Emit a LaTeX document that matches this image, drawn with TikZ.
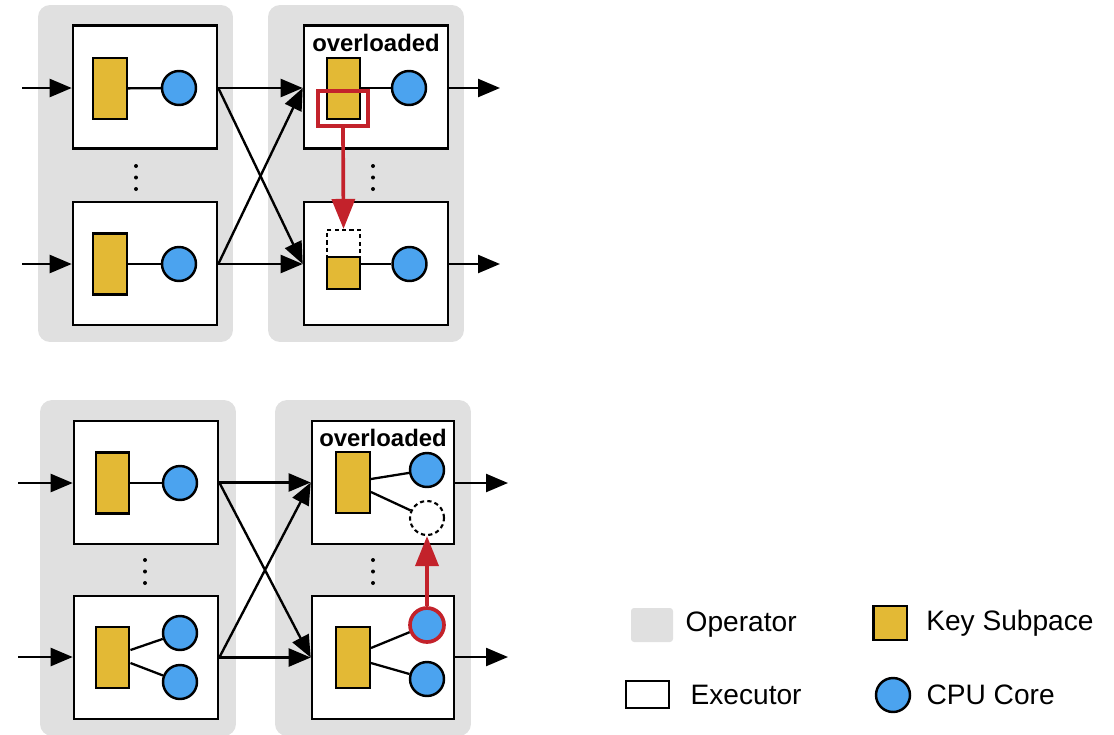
\documentclass[tikz,border=0pt]{standalone}
\usepackage{fontspec}
\setmainfont{Liberation Sans}
\usetikzlibrary{positioning,arrows.meta}

\definecolor{opgray}{HTML}{E0E0E0}
\definecolor{keyyellow}{HTML}{E3B935}
\definecolor{cpublue}{HTML}{4BA3EF}
\definecolor{movered}{HTML}{C3222B}

\tikzset{
  operator/.style={fill=opgray, rounded corners=0.24cm, inner sep=0pt},
  executor/.style={draw, line width=1.5pt, fill=white, minimum width=2.88cm, minimum height=2.46cm, inner sep=0pt},
  keysub/.style={draw, line width=1.4pt, fill=keyyellow, minimum width=0.67cm, minimum height=1.22cm, inner sep=0pt},
  cpu/.style={circle, draw, line width=1.4pt, fill=cpublue, minimum size=0.68cm, inner sep=0pt},
  spare/.style={draw, dash pattern=on 2.4pt off 1.8pt, line width=1.2pt, fill=white, inner sep=0pt},
  link/.style={line width=1.3pt},
  flow/.style={line width=1.35pt, -{Triangle[length=0.44cm, width=0.36cm]}},
  move/.style={draw=movered, line width=2.1pt, -{Triangle[length=0.6cm, width=0.46cm]}},
  tag/.style={font=\bfseries\fontsize{13.6}{16}\selectfont, inner sep=0pt},
  legtext/.style={font=\fontsize{16}{19}\selectfont, inner sep=0pt},
}

\begin{document}
\begin{tikzpicture}[x=0.02cm, y=-0.02cm]
    \useasboundingbox (0,0) rectangle (1114,734);

    % ---- top: moving a key subspace ----
    \node[operator, minimum width=3.9cm, minimum height=6.74cm] (t-op1) at (135.5,173.5) {};
    \node[operator, minimum width=3.92cm, minimum height=6.74cm] (t-op2) at (366,173.5) {};

    \node[executor] (t-ex11) at (145,87) {};
    \node[executor] (t-ex12) at (145,263.5) {};
    \node[executor] (t-ex21) at (376,87) {};
    \node[executor] (t-ex22) at (376,263.5) {};

    \node[keysub] (t-key11) at (110,88.5) {};
    \node[cpu] (t-cpu11) at (179,88) {};
    \node[keysub] (t-key12) at (110,264) {};
    \node[cpu] (t-cpu12) at (179,264) {};
    \node[keysub] (t-key21) at (343.5,88.5) {};
    \node[cpu] (t-cpu21) at (409,88) {};
    \node[tag] (t-tag) at (376,43) {overloaded};
    \node[spare, minimum width=0.66cm, minimum height=0.54cm] (t-slot) at (343.5,243.5) {};
    \node[keysub, minimum height=0.64cm] (t-key22) at (343.5,273) {};
    \node[cpu] (t-cpu22) at (409.5,264) {};
    \node[draw=movered, line width=2.1pt, minimum width=1cm, minimum height=0.7cm, inner sep=0pt] (t-pick) at (343,108.5) {};

    \draw[link] (t-key11) -- (t-cpu11);
    \draw[link] (t-key12) -- (t-cpu12);
    \draw[link] (t-key21.east |- t-cpu21) -- (t-cpu21);
    \draw[link] (t-cpu22.west -| t-key22.east) -- (t-cpu22);

    \foreach \x in {136,373} {
        \foreach \y in {166,177.5,189}
            \fill (\x,\y) circle[radius=0.04cm];
    }

    \coordinate (t-in1) at (22,88);
    \coordinate (t-in2) at (22,264);
    \coordinate (t-out1) at (500,88);
    \coordinate (t-out2) at (500,264);
    \draw[flow] (t-in1) -- (t-in1 -| t-ex11.west);
    \draw[flow] (t-in2) -- (t-in2 -| t-ex12.west);
    \draw[flow] (t-out1 -| t-ex21.east) -- (t-out1);
    \draw[flow] (t-out2 -| t-ex22.east) -- (t-out2);
    \draw[flow] (t-in1 -| t-ex11.east) -- (t-in1 -| t-ex21.west);
    \draw[flow] (t-in1 -| t-ex11.east) -- (t-in2 -| t-ex22.west);
    \draw[flow] (t-in2 -| t-ex12.east) -- (t-in1 -| t-ex21.west);
    \draw[flow] (t-in2 -| t-ex12.east) -- (t-in2 -| t-ex22.west);

    \draw[move] (t-pick.south) -- (t-slot.north);

    % ---- bottom: moving a CPU core ----
    \node[operator, minimum width=3.92cm, minimum height=6.72cm] (b-op1) at (138,568) {};
    \node[operator, minimum width=3.92cm, minimum height=6.72cm] (b-op2) at (373,568) {};

    \node[executor] (b-ex11) at (146,482.5) {};
    \node[executor] (b-ex12) at (146,657.5) {};
    \node[executor, minimum width=2.84cm] (b-ex21) at (383,482.5) {};
    \node[executor, minimum width=2.84cm] (b-ex22) at (383,657.5) {};

    \node[keysub] (b-key11) at (112.5,483) {};
    \node[cpu] (b-cpu11) at (180,483) {};
    \node[keysub] (b-key12) at (112.5,657.5) {};
    \node[cpu] (b-cpu12a) at (180,633) {};
    \node[cpu] (b-cpu12b) at (180,682) {};
    \node[keysub] (b-key21) at (353,482.5) {};
    \node[cpu] (b-cpu21) at (427,470) {};
    \node[spare, circle, minimum size=0.68cm] (b-free) at (427,518) {};
    \node[tag] (b-tag) at (383,438) {overloaded};
    \node[keysub] (b-key22) at (353,657.5) {};
    \node[cpu, draw=movered, line width=2.1pt] (b-cpu22a) at (427,625) {};
    \node[cpu] (b-cpu22b) at (427,679) {};

    \draw[link] (b-key11) -- (b-cpu11);
    \draw[link] ([yshift=0.15cm]b-key12.east) -- (b-cpu12a);
    \draw[link] ([yshift=-0.11cm]b-key12.east) -- (b-cpu12b);
    \draw[link] ([yshift=0.07cm]b-key21.east) -- (b-cpu21);
    \draw[link] ([yshift=-0.19cm]b-key21.east) -- (b-free);
    \draw[link] ([yshift=0.19cm]b-key22.east) -- (b-cpu22a);
    \draw[link] ([yshift=-0.11cm]b-key22.east) -- (b-cpu22b);

    \foreach \x in {145,373} {
        \foreach \y in {560,571.5,583}
            \fill (\x,\y) circle[radius=0.04cm];
    }

    \coordinate (b-in1) at (18,483);
    \coordinate (b-in2) at (18,657);
    \coordinate (b-out1) at (508,483);
    \coordinate (b-out2) at (508,657);
    \draw[flow] (b-in1) -- (b-in1 -| b-ex11.west);
    \draw[flow] (b-in2) -- (b-in2 -| b-ex12.west);
    \draw[flow] (b-out1 -| b-ex21.east) -- (b-out1);
    \draw[flow] (b-out2 -| b-ex22.east) -- (b-out2);
    \draw[flow] (b-ex11.east) -- (b-ex21.west);
    \draw[flow] (b-ex11.east) -- (b-ex22.west);
    \draw[flow] (b-ex12.east) -- (b-ex21.west);
    \draw[flow] (b-ex12.east) -- (b-ex22.west);

    \draw[move] (b-cpu22a.north) -- (b-free.south);

    % ---- legend ----
    \node[operator, rounded corners=0.06cm, minimum width=0.84cm, minimum height=0.68cm] (leg-op) at (652,625) {};
    \node[legtext, right=0.24cm of leg-op] (leg-op-txt) {Operator};
    \node[keysub, minimum height=0.68cm] (leg-key) at (890,623) {};
    \node[legtext, right=0.36cm of leg-key] (leg-key-txt) {Key Subpace};
    \node[executor, minimum width=0.86cm, minimum height=0.54cm] (leg-ex) at (647.5,694.5) {};
    \node[legtext, right=0.4cm of leg-ex] (leg-ex-txt) {Executor};
    \node[cpu] (leg-cpu) at (893,695) {};
    \node[legtext, right=0.3cm of leg-cpu] (leg-cpu-txt) {CPU Core};
\end{tikzpicture}
\end{document}
